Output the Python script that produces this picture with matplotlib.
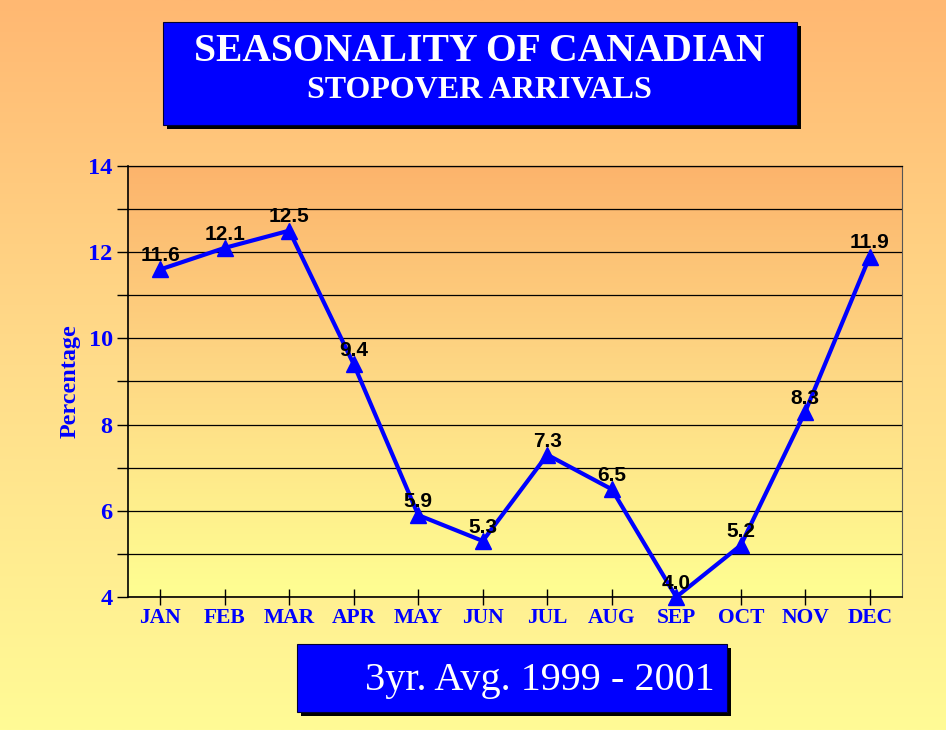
import numpy as np
import matplotlib
matplotlib.use("Agg")
import matplotlib.pyplot as plt
from matplotlib.patches import Rectangle
from matplotlib.colors import LinearSegmentedColormap
from matplotlib.ticker import MultipleLocator

months = ["JAN", "FEB", "MAR", "APR", "MAY", "JUN", "JUL", "AUG", "SEP", "OCT", "NOV", "DEC"]
values = [11.6, 12.1, 12.5, 9.4, 5.9, 5.3, 7.3, 6.5, 4.0, 5.2, 8.3, 11.9]
labels = ["11.6", "12.1", "12.5", "9.4", "5.9", "5.3", "7.3", "6.5", "4.0", "5.2", "8.3", "11.9"]
title1 = "SEASONALITY OF CANADIAN"
title2 = "STOPOVER ARRIVALS"
subtitle = "3yr. Avg. 1999 - 2001"
ylabel = "Percentage"

BLUE = "#0000FF"
fig = plt.figure(figsize=(9.46, 7.30), dpi=100)

# figure background gradient
bg = fig.add_axes([0, 0, 1, 1], zorder=-10)
bg.set_axis_off()
cmap_fig = LinearSegmentedColormap.from_list("f", ["#FFFB96", "#FFDC8A", "#FFB872"])
grad = np.linspace(0, 1, 256).reshape(-1, 1)
bg.imshow(grad, aspect="auto", cmap=cmap_fig, origin="lower", extent=[0, 1, 0, 1])
bg.set_xlim(0, 1); bg.set_ylim(0, 1)

ax = fig.add_axes([0.1353, 0.1822, 0.8182, 0.5904])
x = np.arange(len(months))
ax.set_xlim(-0.5, len(months) - 0.5)
ax.set_ylim(4, 14)

cmap_ax = LinearSegmentedColormap.from_list("a", ["#FFFF92", "#FED985", "#FCB46C"])
ax.imshow(grad, aspect="auto", cmap=cmap_ax, origin="lower",
          extent=[-0.5, len(months) - 0.5, 4, 14], zorder=0)

ax.yaxis.set_major_locator(MultipleLocator(2))
ax.yaxis.set_minor_locator(MultipleLocator(1))
ax.grid(axis="y", which="both", color="black", lw=0.9, zorder=1)
ax.set_axisbelow(False)

ax.plot(x, values, color=BLUE, lw=3, marker="^", markersize=11, zorder=3, clip_on=False)
for xi, v, lab in zip(x, values, labels):
    ax.annotate(lab, (xi, v), xytext=(0, 3), textcoords="offset points",
                ha="center", va="bottom", fontsize=15, fontweight="bold",
                family="Liberation Sans", color="black", zorder=4)

ax.set_xticks(x)
ax.set_xticklabels(months, fontsize=15.5, fontweight="bold", family="Liberation Serif", color=BLUE)
ax.tick_params(axis="x", direction="inout", length=12, width=1, pad=2)
ax.tick_params(axis="y", which="both", direction="out", length=8, width=1, pad=3)
ax.set_yticks([4, 6, 8, 10, 12, 14])
ax.set_yticklabels(["4", "6", "8", "10", "12", "14"], fontsize=17.5, fontweight="bold",
                   family="Liberation Serif", color=BLUE)
for s in ["left", "bottom"]:
    ax.spines[s].set_color("black")
    ax.spines[s].set_linewidth(1.2)
ax.spines["right"].set_color("#555555")
ax.spines["top"].set_color("black")
ax.spines["top"].set_linewidth(0.9)

fig.text(0.074, 0.478, ylabel, rotation=90, ha="center", va="center", fontsize=17.4,
         fontweight="bold", family="Liberation Serif", color=BLUE)

def shadow_box(x0, y0, w, h):
    dx, dy = 4 / 946, 4 / 730
    fig.patches.append(Rectangle((x0 + dx, y0 - dy), w, h, transform=fig.transFigure,
                                 facecolor="black", edgecolor="none", zorder=5))
    fig.patches.append(Rectangle((x0, y0), w, h, transform=fig.transFigure,
                                 facecolor=BLUE, edgecolor="#000033", lw=0.8, zorder=6))

shadow_box(0.1723, 0.8288, 0.6702, 0.1411)
fig.text(0.507, 0.930, title1, ha="center", va="center", fontsize=28.5, fontweight="bold",
         family="Liberation Serif", color="white", zorder=7)
fig.text(0.507, 0.876, title2, ha="center", va="center", fontsize=23, fontweight="bold",
         family="Liberation Serif", color="white", zorder=7)

shadow_box(0.314, 0.0247, 0.4545, 0.0932)
fig.text(0.571, 0.068, subtitle, ha="center", va="center", fontsize=29,
         family="Liberation Serif", color="white", zorder=7)

fig.savefig("out.png", dpi=100)
